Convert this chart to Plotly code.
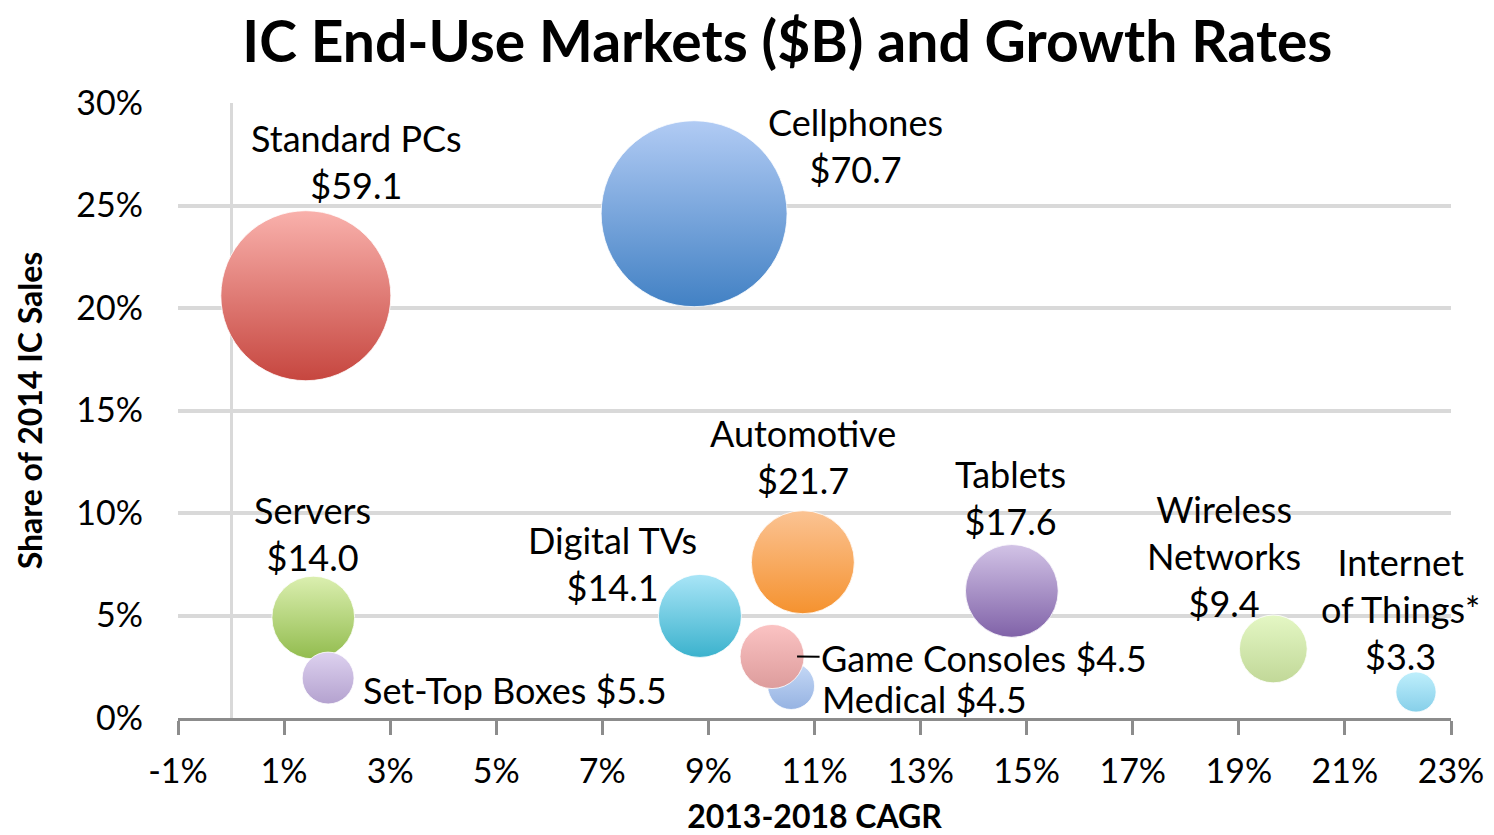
import plotly.graph_objects as go

# IC end-use markets: 2013-2018 CAGR vs share of 2014 IC sales, bubble = market size ($B)
segments = ["Standard PCs", "Cellphones", "Servers", "Set-Top Boxes", "Digital TVs",
            "Automotive", "Medical", "Game Consoles", "Tablets", "Wireless Networks",
            "Internet of Things*"]
cagr = [1.41, 8.73, 1.55, 1.83, 8.84, 10.78, 10.56, 10.2, 14.72, 19.65, 22.34]
share = [20.6, 24.6, 4.9, 1.95, 4.98, 7.6, 1.56, 3.0, 6.2, 3.37, 1.27]
market = [59.1, 70.7, 14.0, 5.5, 14.1, 21.7, 4.5, 4.5, 17.6, 9.4, 3.3]
# bubble areas as drawn (game consoles bubble is drawn larger than its label)
bubble = [59.1, 70.7, 14.0, 5.5, 14.1, 21.7, 4.5, 8.4, 17.6, 9.4, 3.3]

xticks = [-1, 1, 3, 5, 7, 9, 11, 13, 15, 17, 19, 21, 23]
yticks = [0, 5, 10, 15, 20, 25, 30]

top_colors = ["#f9b1ac", "#b1cbf4", "#dbefb0", "#ddd1ef", "#a9e5f7", "#fbc393",
              "#c6d9f6", "#fbc3c3", "#d2c3e6", "#e4f7c4", "#bfeffc"]
bottom_colors = ["#c6463f", "#4281c4", "#92bc4e", "#b4a2cf", "#3bb2cd", "#f5922f",
                 "#96b3e2", "#dd9c9c", "#8062a8", "#c1d898", "#86cfe9"]

# label placement: (line break, xshift px, yshift px, xanchor)
label_pos = {
    "Standard PCs": ("<br>", 51, 134, "center"),
    "Cellphones": ("<br>", 161, 68, "center"),
    "Servers": ("<br>", -1, 84, "center"),
    "Set-Top Boxes": (" ", 33, -12, "left"),
    "Digital TVs": ("<br>", -87, 52, "center"),
    "Automotive": ("<br>", 0, 106, "center"),
    "Medical": (" ", 29, -13, "left"),
    "Tablets": ("<br>", -1, 93, "center"),
    "Wireless Networks": ("<br>", -49, 93, "center"),
    "Internet of Things*": ("<br>", -15, 83, "center"),
}

FONT = "Lato, 'Open Sans', sans-serif"

fig = go.Figure()
fig.add_trace(go.Scatter(
    x=cagr, y=share, mode="markers",
    marker=dict(size=bubble, sizemode="area", sizeref=0.00409,
                color=top_colors, opacity=1,
                gradient=dict(type="vertical", color=bottom_colors),
                line=dict(width=1, color="rgba(255,255,255,0.8)")),
    hovertext=segments, showlegend=False))

annotations = []
for name, xv, yv, mv in zip(segments, cagr, share, market):
    if name == "Game Consoles":
        # label with short leader line to the bubble
        annotations.append(dict(x=xv, y=yv, text=f"{name} ${mv:.1f}", showarrow=True,
                                arrowhead=0, arrowwidth=2, arrowcolor="#000", standoff=25,
                                ax=212, ay=1, font=dict(size=36, color="#000", family=FONT)))
        continue
    sep, dx, dy, anchor = label_pos[name]
    if name == "Wireless Networks":
        text = f"Wireless<br>Networks<br>${mv:.1f}"
    elif name == "Internet of Things*":
        text = f"Internet<br>of Things*<br>${mv:.1f}"
    else:
        text = f"{name}{sep}${mv:.1f}"
    annotations.append(dict(x=xv, y=yv, text=text, showarrow=False, xshift=dx, yshift=dy,
                            xanchor=anchor, yanchor="middle",
                            font=dict(size=36, color="#000", family=FONT)))

fig.update_layout(
    width=1494, height=835,
    margin=dict(l=178, r=43, t=103, b=117),
    paper_bgcolor="white", plot_bgcolor="white",
    font=dict(family=FONT, color="#000"),
    title=dict(text="<b>IC End-Use Markets ($B) and Growth Rates</b>",
               x=0.527, xref="container", xanchor="center",
               y=0.950, yref="container", yanchor="middle",
               font=dict(size=57, color="#000", family=FONT)),
    annotations=annotations,
)
fig.update_xaxes(
    range=[-1, 23], tickvals=xticks, ticktext=[f"{v}%" for v in xticks],
    showgrid=False, zeroline=True, zerolinecolor="#d9d9d9", zerolinewidth=3,
    showline=True, linecolor="#8c8c8c", linewidth=3,
    ticks="outside", ticklen=14, tickwidth=3, tickcolor="#8c8c8c",
    ticklabelstandoff=7, tickfont=dict(size=34, color="#000"), automargin=False,
    title=dict(text="<b>2013-2018 CAGR</b>", font=dict(size=32, color="#000"), standoff=29),
)
fig.update_yaxes(
    range=[0, 30], tickvals=yticks, ticktext=[f"{v}%" for v in yticks],
    showgrid=True, gridcolor="#d9d9d9", gridwidth=4, zeroline=False,
    showline=False, ticks="", ticklabelstandoff=34, automargin=False,
    tickfont=dict(size=34, color="#000"),
    title=dict(text="<b>Share of 2014 IC Sales</b>", font=dict(size=32, color="#000"), standoff=24),
)

# drop the browser's default page margin so the figure fills the window exactly
fig.write_html("out.html", config={"displayModeBar": False},
               post_script="document.body.style.margin='0';")
